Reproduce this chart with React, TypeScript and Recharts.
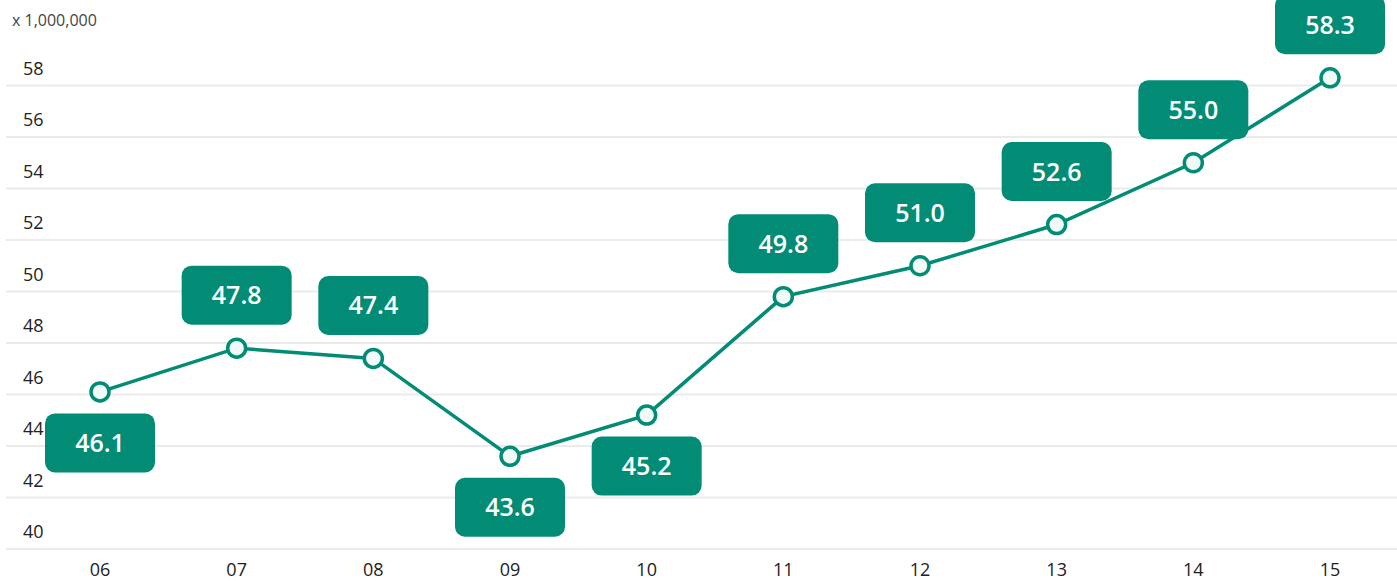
import { LineChart, Line, XAxis, YAxis, CartesianGrid, LabelList } from 'recharts';

const years = ['06', '07', '08', '09', '10', '11', '12', '13', '14', '15'];
const values = [46.1, 47.8, 47.4, 43.6, 45.2, 49.8, 51.0, 52.6, 55.0, 58.3];
const yTicks = [40, 42, 44, 46, 48, 50, 52, 54, 56, 58];

const GREEN = '#028c76';
const FONT = '"Open Sans", "Noto Sans", sans-serif';

// labels drawn under the point instead of above
const below = new Set(['06', '09', '10']);

const data = years.map((year, i) => ({ year, value: values[i] }));

function YTick(props: any) {
  const { y, payload } = props;
  return (
    <text x={23} y={y - 17} dy="0.35em" fontSize={18} fill="#222" fontFamily={FONT}>
      {payload.value}
    </text>
  );
}

function XTick(props: any) {
  const { x, y, payload } = props;
  return (
    <text x={x} y={y} dy="0.71em" textAnchor="middle" fontSize={18} fill="#222" fontFamily={FONT}>
      {payload.value}
    </text>
  );
}

function ValueBox(props: any) {
  const { x, y, value, index } = props;
  const down = below.has(years[index]);
  const cy = down ? y + 51 : y - 53;
  const w = 110;
  const h = 59;
  return (
    <g>
      <rect x={x - w / 2} y={cy - h / 2} width={w} height={h} rx={10} ry={10} fill={GREEN} />
      <text
        x={x}
        y={cy}
        dy="0.36em"
        textAnchor="middle"
        fontSize={25}
        fontWeight={600}
        fill="#fff"
        fontFamily={FONT}
      >
        {Number(value).toFixed(1)}
      </text>
    </g>
  );
}

export default function App() {
  return (
    <div style={{ position: 'relative', width: 1397, height: 581, background: '#fff' }}>
      <style>{'body{margin:0}'}</style>
      <div
        style={{
          position: 'absolute',
          left: 12,
          top: 9,
          fontSize: 16,
          color: '#444',
          fontFamily: FONT,
        }}
      >
        x 1,000,000
      </div>
      <LineChart width={1397} height={581} data={data} margin={{ top: 34, right: 0, left: 0, bottom: 0 }}>
        <CartesianGrid vertical={false} stroke="#ebebeb" strokeWidth={2} horizontalValues={yTicks} />
        <XAxis
          dataKey="year"
          height={32}
          axisLine={false}
          tickLine={false}
          padding={{ left: 94, right: 67 }}
          tick={<XTick />}
          tickMargin={8}
          interval={0}
        />
        <YAxis
          width={6}
          domain={[40, 60]}
          ticks={yTicks}
          interval={0}
          axisLine={false}
          tickLine={false}
          tick={<YTick />}
        />
        <Line
          type="linear"
          dataKey="value"
          stroke={GREEN}
          strokeWidth={3.5}
          dot={{ r: 9, fill: '#f0faf7', stroke: GREEN, strokeWidth: 3.5 }}
          isAnimationActive={false}
        >
          <LabelList dataKey="value" content={<ValueBox />} />
        </Line>
      </LineChart>
    </div>
  );
}
